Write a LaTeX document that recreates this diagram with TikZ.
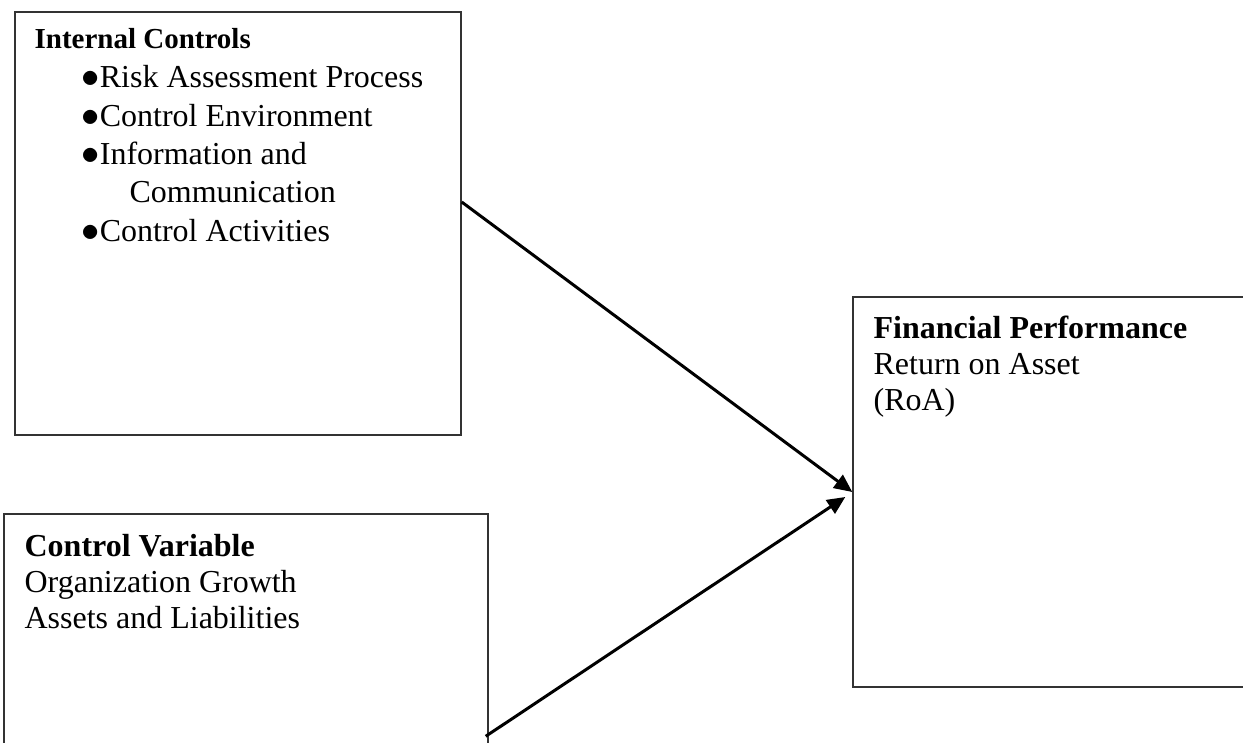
\documentclass[tikz,border=0pt]{standalone}
\usepackage{fontspec}
\setmainfont{Liberation Serif}
\usetikzlibrary{arrows.meta}
\newcommand{\blt}{\scalebox{1.2}{$\bullet$}}

\begin{document}
\begin{tikzpicture}[x=1cm,y=1cm,
  box/.style={draw=black!80,line width=0.8pt,inner sep=0pt},
  txt/.style={inner sep=0pt,align=left,anchor=north west,font=\fontsize{18.2}{20.5}\selectfont},
  link/.style={line width=1.7pt,-{Triangle[length=0.36cm,width=0.32cm]}}]
  % page frame
  \useasboundingbox (0,0) rectangle (24.86,14.84);
  \clip (0,0) rectangle (24.86,14.84);

  % boxes
  \node[box,minimum width=8.92cm,minimum height=8.46cm] (ic) at (4.76,10.37) {};
  \node[box,minimum width=9.68cm,minimum height=5.52cm] (cv) at (4.92,1.8) {};
  \node[box,minimum width=8.54cm,minimum height=7.8cm] (fp) at (21.33,5.0) {};

  % texts
  \node[txt,font=\fontsize{16.5}{19}\selectfont\bfseries] (ichead)
    at ([xshift=0.4cm,yshift=-0.33cm]ic.north west) {Internal Controls};
  \node[txt,font=\fontsize{18.2}{21.8}\selectfont] (iclist)
    at ([xshift=1.34cm,yshift=-1.08cm]ic.north west)
    {\blt Risk Assessment Process\\ \blt Control Environment\\ \blt Information and\\
     \hspace*{0.96cm}Communication\\ \blt Control Activities};
  \node[txt] (cvtext) at ([xshift=0.42cm,yshift=-0.42cm]cv.north west)
    {\textbf{Control Variable}\\ Organization Growth\\ Assets and Liabilities};
  \node[txt] (fptext) at ([xshift=0.42cm,yshift=-0.38cm]fp.north west)
    {\textbf{Financial Performance}\\ Return on Asset\\ (RoA)};

  % arrows
  \coordinate (icout) at ([yshift=0.43cm]ic.east);
  \coordinate (cvout) at ([xshift=-0.06cm,yshift=-4.46cm]cv.north east);
  \coordinate (fpin) at ([xshift=-0.14cm,yshift=-0.1cm]fp.west);
  \draw[link] (icout) -- (fp.west);
  \draw[link] (cvout) -- (fpin);
\end{tikzpicture}
\end{document}
